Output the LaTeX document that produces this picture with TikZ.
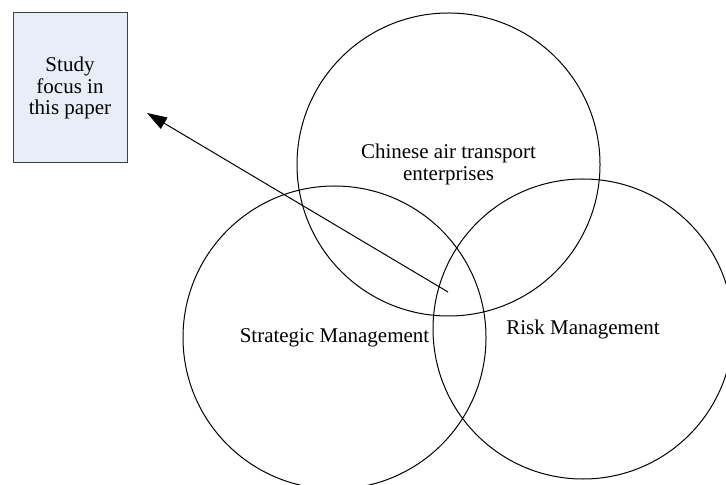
\documentclass[tikz,border=0pt]{standalone}
\usepackage{fontspec}
\setmainfont{Liberation Serif}
\usetikzlibrary{arrows.meta}
\definecolor{boxblue}{RGB}{232,238,248}
\definecolor{boxline}{RGB}{64,64,64}
\tikzset{
  ring/.style={draw=black, line width=0.5pt, circle, inner sep=0pt, align=center,
    font=\fontsize{10.5pt}{10.7pt}\selectfont},
  focusbox/.style={draw=boxline, fill=boxblue, line width=0.5pt, inner sep=0pt,
    minimum width=57pt, minimum height=75pt, align=center,
    font=\fontsize{10.5pt}{10.7pt}\selectfont}
}
\begin{document}
\begin{tikzpicture}[x=0.5pt, y=-0.5pt] % 1 unit = 1 px
  % 画布范围
  \useasboundingbox (0,0) rectangle (726,485);
  \clip (0,0) rectangle (726,485);
  % 三个圆
  \node[ring, minimum size=151.5pt] (air) at (448.5,164.5) {Chinese air transport\\enterprises}; % 上圆
  \node[ring, minimum size=151.5pt] (strat) at (334.5,337.5) {Strategic Management}; % 左圆
  \node[ring, minimum size=150pt] (risk) at (583,329) {Risk Management}; % 右圆
  % 左上方框
  \node[focusbox] (focus) at (70,88) {Study\\focus in\\this paper};
  % 箭头:从三圆交集指向方框
  \coordinate (core) at (448,292);
  \coordinate (tip) at (147,113);
  \draw[-{Triangle[length=10pt, width=6.5pt]}, line width=0.5pt] (core) -- (tip);
\end{tikzpicture}
\end{document}
